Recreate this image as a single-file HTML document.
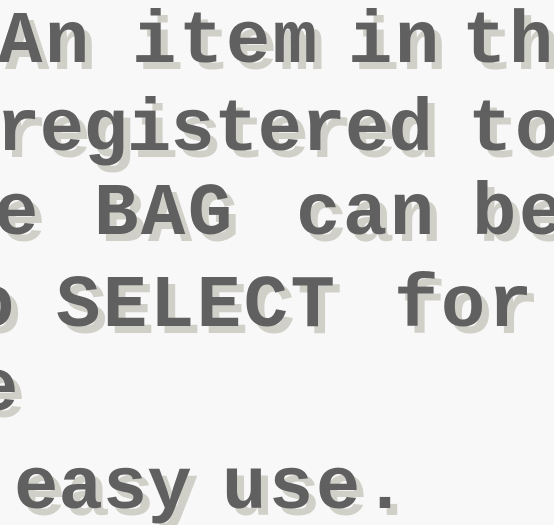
<!DOCTYPE html>
<html><head><style>
html,body{margin:0;padding:0;background:#f8f8f8;width:554px;height:525px;overflow:hidden;position:relative}
.l{position:absolute;font-family:"Liberation Mono",monospace;font-weight:bold;font-size:74px;letter-spacing:2.5px;color:#606060;text-shadow:7px 7px 0 #d0d0c8;white-space:pre;line-height:1}
</style></head><body>
<div class="l" style="left:-2px;top:6px">An</div>
<div class="l" style="left:132px;top:6px">item</div>
<div class="l" style="left:348px;top:6px">in</div>
<div class="l" style="left:462px;top:6px">th</div>
<div class="l" style="left:-4px;top:94px;letter-spacing:-0.8px">registered</div>
<div class="l" style="left:468px;top:94px">to</div>
<div class="l" style="left:-6px;top:178px">e</div>
<div class="l" style="left:94px;top:178px">BAG</div>
<div class="l" style="left:296px;top:178px">can</div>
<div class="l" style="left:472px;top:178px">be</div>
<div class="l" style="left:-30px;top:270px">o</div>
<div class="l" style="left:56px;top:270px">SELECT</div>
<div class="l" style="left:394px;top:270px">for</div>
<div class="l" style="left:-26px;top:354px">e</div>
<div class="l" style="left:14px;top:452px;letter-spacing:0">easy</div>
<div class="l" style="left:222px;top:452px">use.</div>
</body></html>
